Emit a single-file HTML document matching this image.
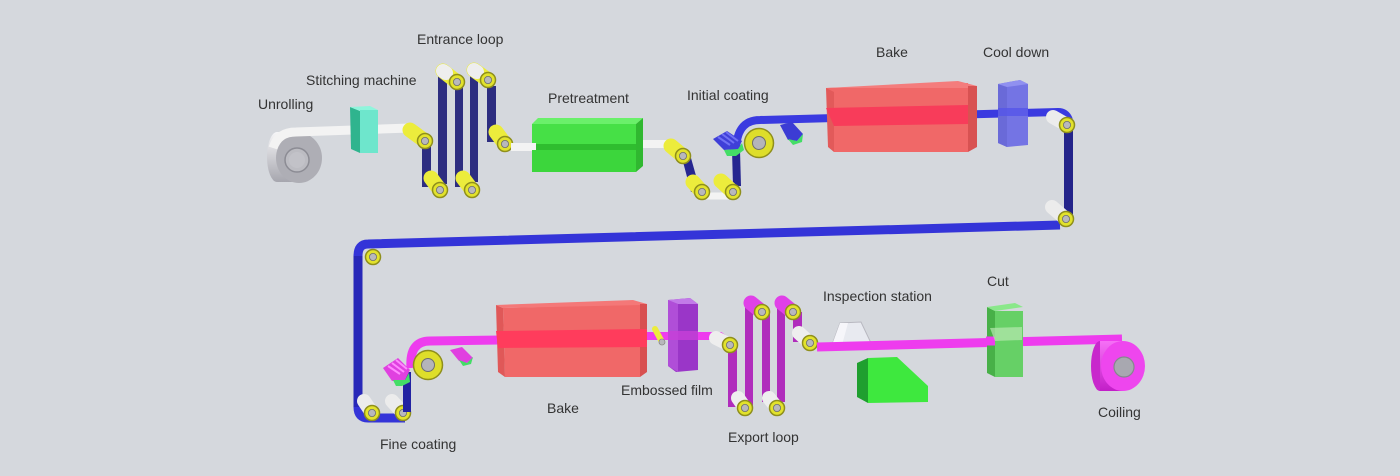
<!DOCTYPE html>
<html><head><meta charset="utf-8"><style>
html,body{margin:0;padding:0;background:#d5d8dd;}
svg{display:block}
text{font-family:"Liberation Sans",Arial,sans-serif;font-size:14px;fill:#333;}
</style></head><body>
<svg width="1400" height="476" viewBox="0 0 1400 476" xmlns="http://www.w3.org/2000/svg">
<defs>
<linearGradient id="gRoll" x1="0" y1="0" x2="0" y2="1"><stop offset="0" stop-color="#f6f6f8"/><stop offset="1" stop-color="#a6a6ae"/></linearGradient>
<linearGradient id="gCoil" x1="0" y1="0" x2="0" y2="1"><stop offset="0" stop-color="#f670f6"/><stop offset="1" stop-color="#c21ec8"/></linearGradient>
<g id="rf"><circle r="7.5" fill="#e2e22c" stroke="#8f8f1c" stroke-width="1.5"/><circle r="3.6" fill="#b8b8bc" stroke="#6e6e6e" stroke-width="0.8"/></g>
<g id="bf"><circle r="14.5" fill="#dede2a" stroke="#8f8f1c" stroke-width="1.5"/><circle r="6.5" fill="#b4b4ba" stroke="#6e6e6e" stroke-width="1"/></g>
</defs>
<rect width="1400" height="476" fill="#d5d8dd"/>

<!-- ===== Unrolling ===== -->
<ellipse cx="277" cy="157" rx="10" ry="25" fill="url(#gRoll)"/>
<rect x="277" y="132" width="22" height="50" fill="url(#gRoll)"/>
<ellipse cx="299" cy="158" rx="23" ry="25" fill="#aeaeb5"/>
<circle cx="297" cy="160" r="12" fill="#bcbcc2" stroke="#8c8c94" stroke-width="1.5"/>
<circle cx="297" cy="160" r="8" fill="#c2c2c8"/>
<path d="M273 148 Q278 132 296 132 L410 128" stroke="#f3f3f3" stroke-width="9" fill="none"/>

<!-- stitching -->
<polygon points="350,107 360,111 360,153 351,149" fill="#2fb48e"/>
<polygon points="350,107 370,106 378,110 360,111" fill="#8ff5dc"/>
<rect x="360" y="110" width="18" height="43" fill="#6ee6cc"/>

<!-- entrance loop bars -->
<g fill="#2d2d80">
<rect x="422" y="145" width="9" height="42"/>
<rect x="438" y="74" width="9" height="110"/>
<rect x="455" y="86" width="8" height="101"/>
<rect x="470" y="72" width="8" height="110"/>
<rect x="487" y="86" width="9" height="56"/>
</g>
<g stroke="#ecec3c" stroke-width="15" stroke-linecap="round">
<line x1="425" y1="141" x2="410" y2="130"/>
<line x1="440" y1="190" x2="431" y2="178"/>
<line x1="457" y1="82" x2="443" y2="71"/>
<line x1="472" y1="190" x2="463" y2="178"/>
<line x1="488" y1="80" x2="474" y2="70"/>
<line x1="505" y1="144" x2="496" y2="132"/>
</g>
<g stroke="#eeeeee" stroke-width="14" stroke-linecap="round">
<line x1="446" y1="73" x2="443" y2="71"/>
<line x1="477" y1="72" x2="474" y2="70"/>
</g>
<use href="#rf" x="425" y="141"/>
<use href="#rf" x="440" y="190"/>
<use href="#rf" x="457" y="82"/>
<use href="#rf" x="472" y="190"/>
<use href="#rf" x="488" y="80"/>
<use href="#rf" x="505" y="144"/>

<!-- web to pretreatment -->
<line x1="511" y1="147" x2="540" y2="147" stroke="#f3f3f3" stroke-width="8"/>

<!-- pretreatment -->
<polygon points="532,124 538,118 643,118 636,124" fill="#6af06a"/>
<rect x="532" y="124" width="104" height="20" fill="#46e046"/>
<rect x="532" y="144" width="104" height="6" fill="#2fbd2f"/>
<rect x="532" y="150" width="104" height="22" fill="#3cd63c"/>
<polygon points="636,124 643,118 643,166 636,172" fill="#30b830"/>
<rect x="526" y="143" width="10" height="7" fill="#f3f3f3"/>

<!-- web to initial coating -->
<path d="M643 144 L674 144" stroke="#f3f3f3" stroke-width="8" fill="none"/>
<line x1="705" y1="196" x2="730" y2="196" stroke="#f3f3f3" stroke-width="7"/>
<polygon points="682,158 691,158 700,190 691,192" fill="#262690"/>
<polygon points="732,150 740,150 741,186 733,186" fill="#262690"/>
<path d="M736 152 Q736 120 760 120 L1058 112 Q1066 112 1069 120" stroke="#3a3ae0" stroke-width="8" fill="none"/>
<g stroke="#ecec3c" stroke-width="15" stroke-linecap="round">
<line x1="683" y1="156" x2="671" y2="146"/>
<line x1="702" y1="192" x2="693" y2="182"/>
<line x1="733" y1="192" x2="721" y2="181"/>
</g>
<use href="#rf" x="683" y="156"/>
<use href="#rf" x="702" y="192"/>
<use href="#rf" x="733" y="192"/>
<use href="#bf" x="759" y="143"/>
<!-- applicators -->
<polygon points="713,139 727,131 742,141 738,149 724,150" fill="#3f3fd8"/>
<g stroke="#7070f4" stroke-width="2"><line x1="718" y1="137" x2="730" y2="145"/><line x1="722" y1="134" x2="734" y2="143"/><line x1="726" y1="132" x2="738" y2="141"/></g>
<polygon points="724,150 738,149 742,143 744,150 736,156 727,156" fill="#44dd66"/>
<polygon points="780,125 792,122 803,134 797,141 788,140" fill="#3c3cd4"/>
<polygon points="788,139 797,141 803,134 802,142 793,145" fill="#44dd66"/>

<!-- top bake -->
<polygon points="826,88 968,83 968,152 834,152" fill="#f06868"/>
<polygon points="826,88 834,92 834,152 828,147" fill="#e25a5a"/>
<polygon points="826,88 958,81 977,86 968,88" fill="#f47c7c"/>
<polygon points="968,86 977,86 977,147 968,152" fill="#d85252"/>
<polygon points="826,108 968,105 968,124 834,126" fill="#f83c5a"/>

<!-- cool down -->
<polygon points="998,84 1020,80 1028,84 1028,145 1007,147 998,143" fill="#7474e4"/>
<polygon points="998,84 1007,87 1007,147 998,143" fill="#6a6ad8"/>
<polygon points="998,84 1020,80 1028,84 1007,87" fill="#9090f0"/>
<rect x="998" y="108" width="30" height="8" fill="#5555e8" opacity="0.8"/>

<!-- right side rollers -->
<rect x="1064" y="127" width="9" height="88" fill="#24248a"/>
<path d="M1060 225 L368 244 Q358 244 358 256 L358 407 Q358 418 368 418 L405 418" stroke="#3434d8" stroke-width="9" fill="none"/>
<line x1="358" y1="256" x2="358" y2="407" stroke="#2828b8" stroke-width="9"/>
<g stroke="#ececec" stroke-width="14" stroke-linecap="round">
<line x1="1067" y1="125" x2="1053" y2="117"/>
<line x1="1066" y1="219" x2="1052" y2="207"/>
<line x1="372" y1="413" x2="364" y2="401"/>
<line x1="403" y1="413" x2="392" y2="401"/>
</g>
<use href="#rf" x="1067" y="125"/>
<use href="#rf" x="1066" y="219"/>
<use href="#rf" x="373" y="257"/>
<use href="#rf" x="372" y="413"/>
<use href="#rf" x="403" y="413"/>

<!-- fine coating -->
<rect x="403" y="372" width="8" height="40" fill="#2222a2"/>
<path d="M411 368 Q409 341 430 341 L500 340" stroke="#ee3cee" stroke-width="9" fill="none"/>
<use href="#bf" x="428" y="365"/>
<polygon points="383,368 398,358 410,370 405,380 392,381" fill="#e040e0"/>
<g stroke="#ff88ff" stroke-width="2"><line x1="388" y1="366" x2="400" y2="374"/><line x1="392" y1="363" x2="404" y2="372"/><line x1="396" y1="360" x2="407" y2="369"/></g>
<polygon points="393,380 405,380 409,373 410,382 402,386 396,386" fill="#44dd66"/>
<polygon points="450,350 462,347 473,358 467,363 459,361" fill="#e040e0"/>
<polygon points="459,360 467,363 473,357 471,364 463,366" fill="#44dd66"/>

<!-- bottom bake -->
<polygon points="503,308 640,304 640,377 505,377" fill="#f06868"/>
<polygon points="496,305 503,308 505,377 498,372" fill="#e05858"/>
<polygon points="496,305 633,300 647,304 640,305 503,308" fill="#f47878"/>
<polygon points="640,304 647,304 647,372 640,377" fill="#d85050"/>
<polygon points="496,331 647,329 647,347 498,348" fill="#ff3c5c"/>

<!-- embossed -->
<line x1="647" y1="336" x2="668" y2="336" stroke="#ee3cee" stroke-width="8"/>
<line x1="655" y1="329" x2="662" y2="342" stroke="#ecec3c" stroke-width="6" stroke-linecap="round"/>
<circle cx="662" cy="342" r="3" fill="#b8b8bc" stroke="#888" stroke-width="0.8"/>
<polygon points="668,300 690,298 698,304 698,370 676,372 668,366" fill="#9a36c8"/>
<polygon points="668,300 678,304 678,372 668,366" fill="#b04ed8"/>
<polygon points="668,300 690,298 698,304 678,304" fill="#c27ae8"/>
<rect x="668" y="331" width="30" height="9" fill="#c840d8" opacity="0.8"/>
<path d="M698 336 L720 336 L728 342" stroke="#ee3cee" stroke-width="8" fill="none"/>

<!-- export loop -->
<g fill="#b02cbc">
<rect x="728" y="347" width="9" height="60"/>
<rect x="745" y="300" width="8" height="107"/>
<rect x="762" y="312" width="8" height="90"/>
<rect x="777" y="300" width="8" height="102"/>
<rect x="793" y="312" width="9" height="30"/>
</g>
<g stroke="#eeeeee" stroke-width="14" stroke-linecap="round">
<line x1="730" y1="345" x2="716" y2="338"/>
<line x1="745" y1="408" x2="738" y2="398"/>
<line x1="777" y1="408" x2="769" y2="398"/>
<line x1="810" y1="343" x2="799" y2="333"/>
</g>
<g stroke="#e040e8" stroke-width="15" stroke-linecap="round">
<line x1="762" y1="312" x2="751" y2="303"/>
<line x1="793" y1="312" x2="782" y2="303"/>
</g>
<use href="#rf" x="730" y="345"/>
<use href="#rf" x="745" y="408"/>
<use href="#rf" x="762" y="312"/>
<use href="#rf" x="777" y="408"/>
<use href="#rf" x="793" y="312"/>
<use href="#rf" x="810" y="343"/>

<!-- inspection -->
<polygon points="840,323 861,322 871,343 832,345" fill="#e8eaf0" stroke="#b8b8c0" stroke-width="1"/>
<polygon points="840,323 848,323 842,345 832,345" fill="#f6f6fa"/>
<line x1="817" y1="347" x2="1122" y2="339" stroke="#ee3cee" stroke-width="9"/>
<polygon points="857,363 868,358 868,403 857,397" fill="#1f9f2f"/>
<polygon points="868,358 897,357 928,386 928,402 868,403" fill="#3ee83e"/>

<!-- cut -->
<polygon points="987,307 995,311 995,377 987,373" fill="#48b048"/>
<line x1="986" y1="341" x2="996" y2="341" stroke="#ee3cee" stroke-width="9"/>
<rect x="995" y="311" width="28" height="66" fill="#66d066"/>
<polygon points="987,307 1015,303 1023,307 995,311" fill="#8ae88a"/>
<polygon points="990,328 1022,327 1022,340 995,341" fill="#b8e8b0" opacity="0.7"/>

<!-- coiling -->
<ellipse cx="1100" cy="366" rx="9" ry="25" fill="#c828cc"/>
<rect x="1100" y="341" width="23" height="50" fill="url(#gCoil)"/>
<ellipse cx="1123" cy="366" rx="22" ry="25" fill="#ee46ee"/>
<circle cx="1124" cy="367" r="10" fill="#a8a8b0" stroke="#86868e" stroke-width="1.2"/>

<!-- labels -->
<text x="258" y="109">Unrolling</text>
<text x="306" y="85">Stitching machine</text>
<text x="417" y="44">Entrance loop</text>
<text x="548" y="103">Pretreatment</text>
<text x="687" y="100">Initial coating</text>
<text x="876" y="57">Bake</text>
<text x="983" y="57">Cool down</text>
<text x="823" y="301">Inspection station</text>
<text x="987" y="286">Cut</text>
<text x="621" y="395">Embossed film</text>
<text x="547" y="413">Bake</text>
<text x="728" y="442">Export loop</text>
<text x="380" y="449">Fine coating</text>
<text x="1098" y="417">Coiling</text>
</svg>
</body></html>
